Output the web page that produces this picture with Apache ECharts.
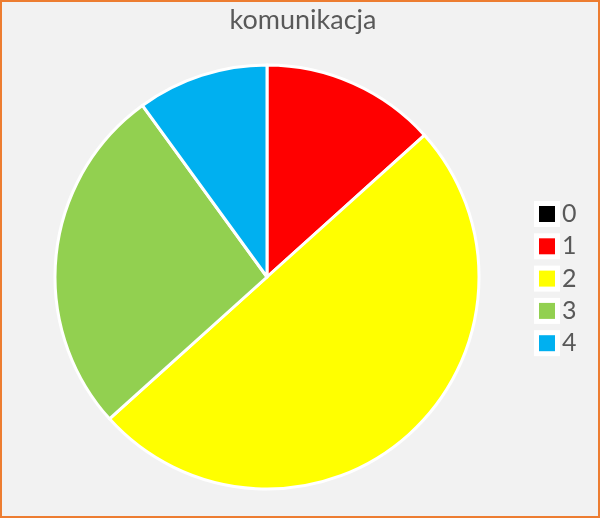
<!DOCTYPE html>
<html>
<head>
<meta charset="utf-8">
<script src="https://cdn.jsdelivr.net/npm/echarts@6/dist/echarts.min.js"></script>
<style>
html,body{margin:0;padding:0;background:#f2f2f2;}
#chart{width:600px;height:518px;}
</style>
</head>
<body>
<div id="chart"></div>
<script>
const title = 'komunikacja';
const categories = ['0', '1', '2', '3', '4'];
const values = [0, 4, 15, 8, 3];
const colors = ['#000000', '#ff0000', '#ffff00', '#92d050', '#00b0f0'];

const legendText = {fontFamily: 'Lato', fontSize: 25, lineHeight: 26, color: '#595959'};
const chart = echarts.init(document.getElementById('chart'));
chart.setOption({
  backgroundColor: '#f2f2f2',
  animation: false,
  title: {
    text: title,
    left: 298,
    textAlign: 'center',
    top: 2,
    textStyle: {fontFamily: 'Lato', fontWeight: 'normal', fontSize: 27, color: '#595959'}
  },
  legend: [{
    orient: 'vertical',
    left: 529,
    top: 196,
    z: 1,
    itemWidth: 26,
    itemHeight: 26,
    itemGap: 6.3,
    icon: 'rect',
    selectedMode: false,
    itemStyle: {color: '#ffffff', borderWidth: 0},
    textStyle: Object.assign({}, legendText, {color: 'rgba(0,0,0,0)'}),
    data: categories
  }, {
    orient: 'vertical',
    left: 534,
    top: 196,
    z: 5,
    itemWidth: 16,
    itemHeight: 16,
    itemGap: 6.3,
    icon: 'rect',
    itemStyle: {borderWidth: 0},
    textStyle: Object.assign({}, legendText, {padding: [0, 0, 0, 2]}),
    data: categories
  }],
  graphic: [{
    type: 'rect',
    shape: {x: 1, y: 1, width: 598, height: 516},
    style: {fill: 'none', stroke: '#ed7d31', lineWidth: 2},
    silent: true
  }],
  series: [{
    type: 'pie',
    center: [267, 277],
    radius: 212,
    startAngle: 90,
    clockwise: true,
    label: {show: false},
    labelLine: {show: false},
    itemStyle: {borderColor: '#ffffff', borderWidth: 3},
    data: categories.map((c, i) => ({name: c, value: values[i], itemStyle: {color: colors[i]}}))
  }]
});
</script>
</body>
</html>
